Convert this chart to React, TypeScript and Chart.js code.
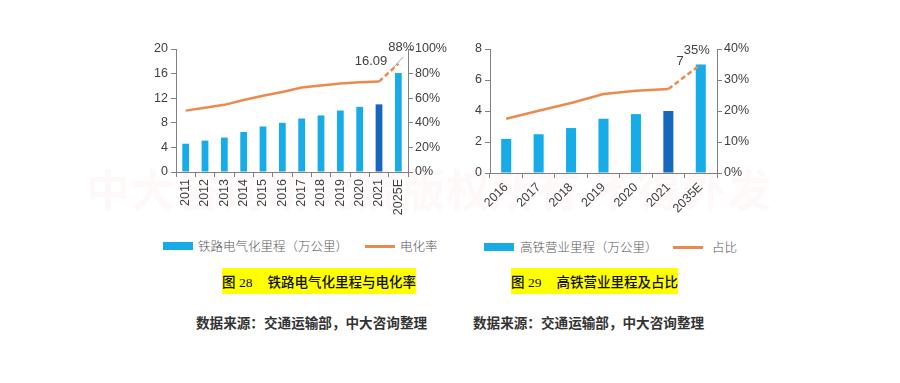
import React, { useEffect, useRef } from 'react';
import { Chart, registerables } from 'chart.js';

Chart.register(...registerables);

// ---- Data: Figure 28 ----
const years1 = ['2011', '2012', '2013', '2014', '2015', '2016', '2017', '2018', '2019', '2020', '2021', '2025E'];
const mileage1 = [4.6, 5.1, 5.6, 6.5, 7.4, 8.0, 8.7, 9.2, 10.0, 10.6, 11.0, 16.09];
const rate1 = [49.9, 52.3, 54.6, 58.5, 62.0, 65.0, 68.7, 70.3, 72.0, 73.0, 73.5, 88];
const highlight1 = 10;
const yTicks1 = { min: 0, max: 20, step: 4 };
const y1Ticks1 = { min: 0, max: 100, step: 20 };

// ---- Data: Figure 29 ----
const years2 = ['2016', '2017', '2018', '2019', '2020', '2021', '2035E'];
const mileage2 = [2.2, 2.5, 2.9, 3.5, 3.8, 4.0, 7];
const share2 = [17.5, 20.1, 22.6, 25.5, 26.5, 27.1, 35];
const highlight2 = 5;
const yTicks2 = { min: 0, max: 8, step: 2 };
const y1Ticks2 = { min: 0, max: 40, step: 10 };

const TEXT = '#404040';
const AXIS = '#808080';
const BLUE = '#17ACE8';
const DARK = '#1767BE';
const ORANGE = '#EC8A4E';
const FONT = { family: '"Liberation Sans", Arial, sans-serif', size: 12.5 };

const endLabels = {
  id: 'endLabels',
  afterDatasetsDraw(chart: any, _args: any, opts: any) {
    const ctx = chart.ctx;
    const barMeta = chart.getDatasetMeta(0);
    const lineMeta = chart.getDatasetMeta(1);
    const n = barMeta.data.length - 1;
    const bar = barMeta.data[n];
    const pt = lineMeta.data[n];
    ctx.save();
    ctx.font = '13px "Liberation Sans", Arial, sans-serif';
    ctx.fillStyle = TEXT;
    if (opts.leader) {
      ctx.strokeStyle = '#a6a6a6';
      ctx.lineWidth = 1;
      ctx.beginPath();
      ctx.moveTo(pt.x + opts.leader[0], pt.y + opts.leader[1]);
      ctx.lineTo(pt.x + opts.leader[2], pt.y + opts.leader[3]);
      ctx.stroke();
    }
    ctx.textAlign = 'right';
    ctx.textBaseline = 'middle';
    ctx.fillText(opts.barText, bar.x + opts.barDx, bar.y + opts.barDy);
    ctx.textAlign = 'center';
    ctx.fillText(opts.lineText, pt.x + opts.lineDx, pt.y + opts.lineDy);
    ctx.restore();
  },
};

function buildConfig(
  labels: string[],
  bars: number[],
  line: number[],
  highlight: number,
  yT: any,
  y1T: any,
  rotation: number,
  barPct: number,
  dims: { left: number; right: number; top: number; xh: number },
  lbl: any
): any {
  const last = line.length - 1;
  return {
    type: 'bar',
    data: {
      labels,
      datasets: [
        {
          type: 'bar',
          data: bars,
          backgroundColor: bars.map((_, i) => (i === highlight ? DARK : BLUE)),
          categoryPercentage: 1,
          barPercentage: barPct,
          yAxisID: 'y',
          order: 2,
        },
        {
          type: 'line',
          data: line,
          borderColor: ORANGE,
          borderWidth: 2.5,
          pointRadius: 0,
          tension: 0,
          yAxisID: 'y1',
          order: 1,
          segment: {
            borderDash: (c: any) => (c.p1DataIndex === last ? [5, 3] : undefined),
          },
        },
      ],
    },
    options: {
      responsive: false,
      animation: false,
      devicePixelRatio: 1,
      layout: { padding: { top: dims.top, left: 0, right: 0, bottom: 0 } },
      plugins: {
        legend: { display: false },
        tooltip: { enabled: false },
        endLabels: lbl,
      },
      scales: {
        x: {
          grid: { drawOnChartArea: false, drawTicks: true, tickLength: 5, color: AXIS, offset: true },
          border: { color: AXIS },
          ticks: { color: TEXT, font: FONT, minRotation: rotation, maxRotation: rotation, padding: 2, autoSkip: false },
          afterFit: (s: any) => {
            s.height = dims.xh;
          },
        },
        y: {
          position: 'left',
          min: yT.min,
          max: yT.max,
          ticks: { stepSize: yT.step, color: TEXT, font: FONT, padding: 3 },
          grid: { drawOnChartArea: false, tickLength: 5, color: AXIS },
          border: { color: AXIS },
          afterFit: (s: any) => {
            s.width = dims.left;
          },
        },
        y1: {
          position: 'right',
          min: y1T.min,
          max: y1T.max,
          ticks: { stepSize: y1T.step, color: TEXT, font: FONT, padding: 2, callback: (v: any) => v + '%' },
          grid: { drawOnChartArea: false, tickLength: 5, color: AXIS },
          border: { color: AXIS },
          afterFit: (s: any) => {
            s.width = dims.right;
          },
        },
      },
    },
    plugins: [endLabels],
  };
}

function ChartCanvas({ config, left, top, width, height }: any) {
  const ref = useRef<HTMLCanvasElement>(null);
  useEffect(() => {
    if (!ref.current) return;
    const c = new Chart(ref.current, config);
    return () => c.destroy();
  }, []);
  return (
    <canvas
      ref={ref}
      width={width}
      height={height}
      style={{ position: 'absolute', left, top, width, height }}
    />
  );
}

const legendText: React.CSSProperties = {
  position: 'absolute',
  fontFamily: '"Noto Sans CJK SC", sans-serif',
  fontWeight: 300,
  fontSize: 12.5,
  color: '#595959',
  lineHeight: '16px',
  whiteSpace: 'nowrap',
};

const captionBox: React.CSSProperties = {
  position: 'absolute',
  height: 26,
  background: '#FFFF00',
  display: 'flex',
  alignItems: 'center',
  justifyContent: 'space-between',
  color: '#111',
  whiteSpace: 'nowrap',
};

const sourceText: React.CSSProperties = {
  position: 'absolute',
  fontFamily: '"Noto Sans CJK SC", sans-serif',
  fontWeight: 600,
  fontSize: 13.6,
  color: '#333',
  lineHeight: '18px',
  whiteSpace: 'nowrap',
};

function Caption({ left, width, num, title }: any) {
  return (
    <div style={{ ...captionBox, left, top: 268, width }}>
      <span style={{ fontSize: 13.5 }}>
        <span style={{ fontFamily: '"Noto Sans CJK SC", sans-serif', fontWeight: 500 }}>图</span>
        <span style={{ fontFamily: '"Liberation Serif", "Times New Roman", serif' }}> {num}</span>
      </span>
      <span style={{ fontFamily: '"Noto Sans CJK SC", sans-serif', fontWeight: 500, fontSize: 13.5 }}>{title}</span>
    </div>
  );
}

export default function App() {
  const cfg1 = buildConfig(years1, mileage1, rate1, highlight1, yTicks1, y1Ticks1, 90, 0.35,
    { left: 46, right: 52, top: 19, xh: 58 },
    {
      barText: String(mileage1[mileage1.length - 1]),
      barDx: -11,
      barDy: -11.5,
      lineText: rate1[rate1.length - 1] + '%',
      lineDx: 3,
      lineDy: -16,
      leader: [-5, 4, 5, -7],
    });
  const cfg2 = buildConfig(years2, mileage2, share2, highlight2, yTicks2, y1Ticks2, 45, 0.31,
    { left: 30, right: 53, top: 19, xh: 62 },
    {
      barText: String(mileage2[mileage2.length - 1]),
      barDx: -17,
      barDy: -3,
      lineText: share2[share2.length - 1] + '%',
      lineDx: -4,
      lineDy: -14.5,
    });

  return (
    <div style={{ position: 'fixed', left: 0, top: 0, width: 900, height: 383, background: '#fff', overflow: 'hidden' }}>
      <div
        style={{
          position: 'absolute',
          left: 86,
          top: 156,
          fontFamily: '"Noto Sans CJK SC", sans-serif',
          fontWeight: 700,
          fontSize: 44,
          letterSpacing: 1,
          color: 'rgba(230, 40, 40, 0.055)',
          whiteSpace: 'nowrap',
        }}
      >
        中大咨询研究院版权所有 不得外发
      </div>

      <ChartCanvas config={cfg1} left={130} top={30} width={330} height={200} />
      <ChartCanvas config={cfg2} left={460} top={30} width={310} height={205} />

      {/* Legend 1 */}
      <div style={{ position: 'absolute', left: 163, top: 242, width: 30, height: 8, background: BLUE }} />
      <div style={{ ...legendText, left: 198, top: 238 }}>铁路电气化里程（万公里）</div>
      <div style={{ position: 'absolute', left: 365, top: 245, width: 30, height: 2.5, background: ORANGE }} />
      <div style={{ ...legendText, left: 400, top: 238 }}>电化率</div>

      {/* Legend 2 */}
      <div style={{ position: 'absolute', left: 484, top: 243, width: 30, height: 8, background: BLUE }} />
      <div style={{ ...legendText, left: 520, top: 239 }}>高铁营业里程（万公里）</div>
      <div style={{ position: 'absolute', left: 673, top: 246, width: 30, height: 2.5, background: ORANGE }} />
      <div style={{ ...legendText, left: 712, top: 239 }}>占比</div>

      <Caption left={222} width={194} num="28" title="铁路电气化里程与电化率" />
      <Caption left={511} width={167} num="29" title="高铁营业里程及占比" />

      <div style={{ ...sourceText, left: 196, top: 313 }}>数据来源：交通运输部，中大咨询整理</div>
      <div style={{ ...sourceText, left: 473, top: 313 }}>数据来源：交通运输部，中大咨询整理</div>
    </div>
  );
}
